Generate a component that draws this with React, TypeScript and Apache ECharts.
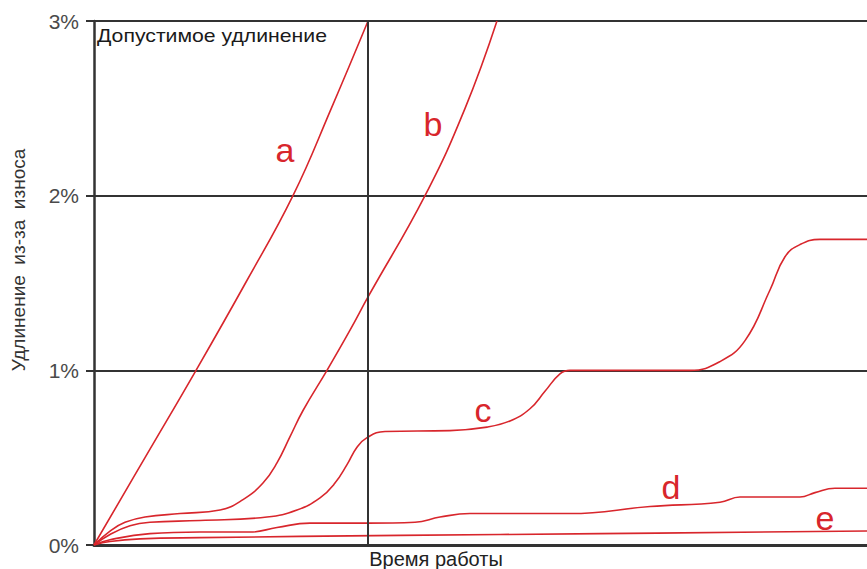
import React, { useEffect, useRef } from "react";
import * as echarts from "echarts";

// x: operating time (0..100 = plot width), y: elongation due to wear, %
const seriesA: number[][] = [[0, 0], [6.6, 0.5], [13.2, 1], [19.6, 1.5], [25.74, 2], [30.7, 2.5], [35.45, 3]];
const seriesB: number[][] = [
  [0, 0], [2.07, 0.08], [4.01, 0.13], [6.6, 0.16], [11.13, 0.18], [16.3, 0.2], [19.28, 0.26],
  [21.86, 0.355], [23.67, 0.47], [25.36, 0.62], [27.04, 0.77], [30.14, 1.0], [33.12, 1.23],
  [35.45, 1.42], [42.82, 2.0], [48.0, 2.5], [52.13, 3.0],
];
const seriesC: number[][] = [
  [0, 0], [2.07, 0.06], [4.66, 0.11], [7.24, 0.13], [13.71, 0.14], [22.38, 0.16], [26.26, 0.2],
  [29.24, 0.27], [31.1, 0.35], [32.73, 0.46], [34.02, 0.56], [35.32, 0.615], [37.65, 0.65],
  [46.05, 0.655], [50.84, 0.675], [53.82, 0.71], [56.4, 0.78], [58.34, 0.88], [60.28, 0.98],
  [61.58, 1.0], [77.1, 1.0], [80.98, 1.05], [84.22, 1.17], [87.45, 1.46], [89.39, 1.65],
  [91.33, 1.72], [93.92, 1.75], [100, 1.75],
];
const seriesD: number[][] = [
  [0, 0], [2.07, 0.03], [7.24, 0.065], [13.71, 0.074], [20.2, 0.074], [23.67, 0.1], [27.94, 0.125],
  [35.45, 0.125], [41.53, 0.13], [44.76, 0.16], [48.64, 0.18], [61.58, 0.18], [71.93, 0.22],
  [80.98, 0.245], [83.57, 0.275], [91.33, 0.275], [93.27, 0.3], [95.86, 0.325], [100, 0.325],
];
const seriesE: number[][] = [
  [0, 0], [2.07, 0.02], [5.95, 0.035], [13.71, 0.042], [39.59, 0.055], [65.46, 0.065], [100, 0.08],
];
const seriesNames = ["a", "b", "c", "d", "e"];
const yTicks = [0, 1, 2, 3];
const verticalMarkX = 35.45;

const RED = "#d8262c";
const DARK = "#333333";

export default function App() {
  const ref = useRef<HTMLDivElement>(null);
  useEffect(() => {
    if (!ref.current) return;
    const chart = echarts.init(ref.current, undefined, { renderer: "svg" });
    const all = [seriesA, seriesB, seriesC, seriesD, seriesE];
    const labelPos = [
      [285, 150], [433, 124], [483, 410], [671, 487], [825, 518],
    ];
    chart.setOption({
      animation: false,
      backgroundColor: "#ffffff",
      grid: { left: 94, right: 0, top: 21, bottom: 24, containLabel: false },
      xAxis: {
        type: "value",
        min: 0,
        max: 100,
        axisLine: { show: true, onZero: true, lineStyle: { color: DARK, width: 3 } },
        axisTick: { show: false },
        axisLabel: { show: false },
        splitLine: { show: false },
      },
      yAxis: {
        type: "value",
        min: yTicks[0],
        max: yTicks[yTicks.length - 1],
        interval: 1,
        axisLine: { show: true, lineStyle: { color: DARK, width: 2.5 } },
        axisTick: { show: true, length: 8, lineStyle: { color: DARK, width: 2 } },
        axisLabel: {
          formatter: "{value}%",
          color: "#4a4a4a",
          fontSize: 21,
          fontFamily: "Liberation Sans, Arial, sans-serif",
          margin: 15,
        },
        splitLine: { show: true, lineStyle: { color: DARK, width: 2.2 } },
      },
      series: all.map((d, i) => ({
        type: "line",
        name: seriesNames[i],
        data: d,
        showSymbol: false,
        smooth: 0.45,
        lineStyle: { color: RED, width: 1.6 },
        clip: true,
        silent: true,
        markLine:
          i === 4
            ? {
                silent: true,
                symbol: "none",
                label: { show: false },
                lineStyle: { color: DARK, width: 2, type: "solid" },
                data: [{ xAxis: verticalMarkX }],
              }
            : undefined,
      })),
      graphic: [
        {
          type: "text",
          x: 97,
          y: 27,
          scaleX: 1.18,
          style: {
            text: "Допустимое удлинение",
            fill: "#1a1a1a",
            font: "18px 'Liberation Sans', Arial, sans-serif",
          },
        },
        {
          type: "text",
          x: 436,
          y: 559,
          style: {
            text: "Время работы",
            fill: "#222",
            font: "20px 'Liberation Sans', Arial, sans-serif",
            align: "center",
            verticalAlign: "middle",
          },
        },
        {
          type: "text",
          x: 18,
          y: 260,
          rotation: Math.PI / 2,
          style: {
            text: "Удлинение  из-за  износа",
            fill: "#333",
            font: "19px 'Liberation Sans', Arial, sans-serif",
            align: "center",
            verticalAlign: "middle",
          },
        },
        ...seriesNames.map((n, i) => ({
          type: "text",
          x: labelPos[i][0],
          y: labelPos[i][1],
          style: {
            text: n,
            fill: RED,
            font: "34px 'Liberation Sans', Arial, sans-serif",
            align: "center",
            verticalAlign: "middle",
          },
        })),
      ],
    });
    return () => chart.dispose();
  }, []);
  return (
    <div
      ref={ref}
      style={{ position: "absolute", left: 0, top: 0, width: 867, height: 569 }}
    />
  );
}
